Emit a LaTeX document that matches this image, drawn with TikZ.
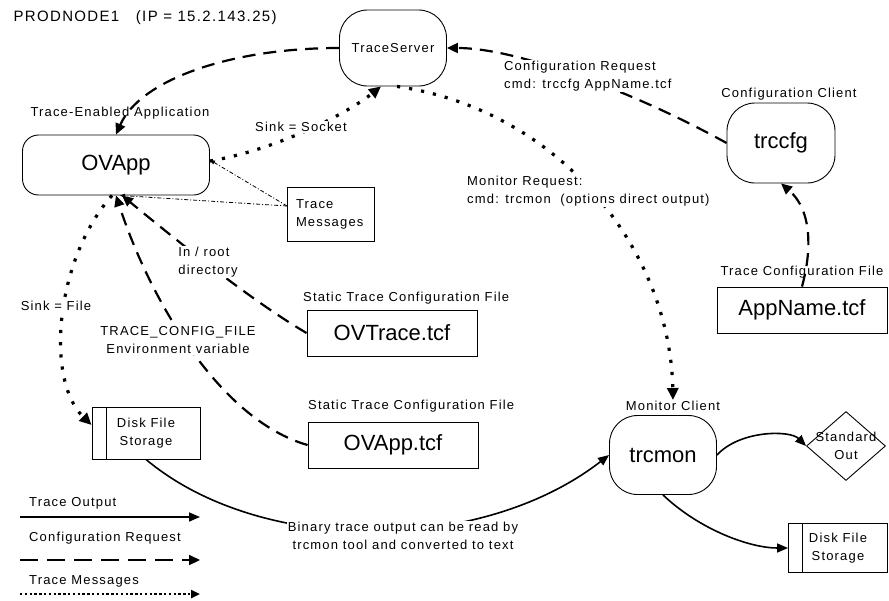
\documentclass[tikz,border=0pt]{standalone}
\usepackage{fontspec}
\setmainfont{Liberation Sans}
\newfontfamily\lblfont{Liberation Sans}[LetterSpace=9]
\usepackage{tikz}
\usetikzlibrary{shapes,arrows.meta}
\newcommand{\smalltxt}{\lblfont\fontsize{13}{18}\selectfont}
\newcommand{\bigtxt}{\fontsize{22}{26}\selectfont}
\newcommand{\titletxt}{\lblfont\fontsize{15}{18}\selectfont}
\tikzstyle{proc}=[rectangle, draw, line width=0.9pt, font=\bigtxt, inner sep=0pt]
\tikzstyle{filebox}=[rectangle, draw, line width=0.9pt, font=\bigtxt, minimum width=170, minimum height=46]
\tikzstyle{msgbox}=[rectangle, draw, line width=0.9pt, font=\smalltxt, align=left, text width=70pt, minimum width=87, minimum height=54]
\tikzstyle{diskbox}=[rectangle, draw, line width=0.9pt, font=\smalltxt, align=center, minimum width=108, minimum height=52, path picture={\draw[line width=0.9pt] ([xshift=14pt]path picture bounding box.north west) -- ([xshift=14pt]path picture bounding box.south west);}]
\tikzstyle{outdiamond}=[diamond, draw, line width=0.9pt, minimum width=79, minimum height=69, inner sep=0pt]
\tikzstyle{caption}=[font=\smalltxt, inner sep=1pt]
\tikzstyle{cfgline}=[line width=2.2pt, dash pattern=on 13pt off 8pt, -{Triangle[length=11pt,width=10pt]}]
\tikzstyle{msgline}=[line width=3.2pt, dash pattern=on 3.2pt off 9pt, -{Triangle[length=12pt,width=11pt]}]
\tikzstyle{dataline}=[line width=1.6pt, -{Triangle[length=11pt,width=9pt]}]
\tikzstyle{thinline}=[line width=0.8pt, dash pattern=on 4pt off 2pt on 1pt off 2pt, -{Triangle[length=5pt,width=4pt]}]
\begin{document}
\begin{tikzpicture}[x=1pt,y=-1pt]
\useasboundingbox (0,0) rectangle (889,600);
%Title
\node[font=\titletxt, anchor=west] (title) at (10,18) {PRODNODE1\ \ \ (IP = 15.2.143.25)};

%Processes
\node[proc, minimum width=187, minimum height=60, rounded corners=16pt] (ovapp) at (116,165) {OVApp};
\node[proc, font=\smalltxt, minimum width=107, minimum height=76, rounded corners=28pt] (srv) at (393,48) {TraceServer};
\node[proc, minimum width=108, minimum height=80, rounded corners=28pt] (cfg) at (781,143) {trccfg};
\node[proc, minimum width=107, minimum height=79, rounded corners=28pt] (mon) at (663,455) {trcmon};

%Files
\node[filebox] (ovtrace) at (392,333) {OVTrace.tcf};
\node[filebox] (ovappcfg) at (393,445) {OVApp.tcf};
\node[filebox] (appname) at (802,310) {AppName.tcf};
\node[msgbox] (msgs) at (331,214) {Trace\\Messages};
\node[diskbox] (disk) at (146,433) {Disk File\\Storage};
\node[diskbox, minimum width=99, minimum height=49] (disk2) at (838,548) {Disk File\\Storage};
\node[outdiamond, label={[font=\smalltxt, align=center]center:Standard\\Out}] (stdout) at (846,446) {};

%Captions
\node[caption] (appcap) at (120,113) {Trace-Enabled Application};
\node[caption] (cfgcap) at (789,94) {Configuration Client};
\node[caption] (tcfcap) at (802,272) {Trace Configuration File};
\node[caption, anchor=west] (statcap1) at (302,298) {Static Trace Configuration File};
\node[caption, anchor=west] (statcap2) at (307,406) {Static Trace Configuration File};
\node[caption] (moncap) at (673,406) {Monitor Client};

%Configuration requests
\draw[cfgline] (srv.west) .. controls (230,48) and (140,80) .. (ovapp.north);
\draw[cfgline] (cfg.west) .. controls (640,95) and (520,48) .. (srv.east);
\draw[cfgline] (appname.north) .. controls (812,250) and (812,210) .. (cfg.south);
\draw[cfgline] (ovtrace.west) .. controls (250,300) and (170,235) .. ([xshift=6pt]ovapp.south);
\draw[cfgline] (ovappcfg.west) .. controls (220,420) and (150,300) .. (ovapp.south);

%Trace messages
\draw[msgline] ([yshift=4pt]ovapp.east) .. controls (275,150) and (345,115) .. ([xshift=-12pt]srv.south);
\draw[msgline] ([xshift=4pt]srv.south) .. controls (560,110) and (670,250) .. (moncap.north);
\draw[msgline] ([xshift=-4pt]ovapp.south) .. controls (55,260) and (45,380) .. ([yshift=8pt]disk.west);
\draw[thinline] ([yshift=8pt]msgs.west) -- ([yshift=5pt]ovapp.east);
\draw[thinline] ([yshift=8pt]msgs.west) -- ([xshift=4pt]ovapp.south);

%Trace output
\draw[dataline] (disk.south) .. controls (260,555) and (480,555) .. (mon.west);
\draw[dataline] (mon.east) .. controls (740,430) and (790,430) .. (stdout.west);
\draw[dataline] (mon.south) .. controls (700,530) and (750,548) .. (disk2.west);

%Labels on the lines
\node[caption, fill=white] (sinksock) at (301,127) {Sink = Socket};
\node[caption, fill=white, anchor=west, align=left] (cfgreq) at (503,76) {Configuration Request\\cmd: trccfg AppName.tcf};
\node[caption, fill=white, anchor=west, align=left] (monreq) at (466,191) {Monitor Request:\\cmd: trcmon\ \ (options direct output)};
\node[caption, fill=white, align=left] (rootdir) at (208,262) {In / root\\directory};
\node[caption, fill=white, align=center] (envvar) at (178,340) {TRACE\_CONFIG\_FILE\\Environment variable};
\node[caption, fill=white] (sinkfile) at (56,306) {Sink = File};
\node[caption, fill=white, align=center] (binout) at (403,536) {Binary trace output can be read by\\trcmon tool and converted to text};

%Legend
\coordinate (lg1a) at (20,517); \coordinate (lg1b) at (200,517);
\coordinate (lg2a) at (20,560); \coordinate (lg2b) at (200,560);
\coordinate (lg3a) at (20,594); \coordinate (lg3b) at (200,594);
\node[caption, anchor=west] (lg1t) at (28,503) {Trace Output};
\node[caption, anchor=west] (lg2t) at (28,538) {Configuration Request};
\node[caption, anchor=west] (lg3t) at (28,581) {Trace Messages};
\draw[dataline] (lg1a) -- (lg1b);
\draw[cfgline, dash pattern=on 18pt off 9pt] (lg2a) -- (lg2b);
\draw[msgline, line width=2.4pt, dash pattern=on 2.4pt off 2.4pt, -{Triangle[length=9pt,width=8pt]}] (lg3a) -- (lg3b);
\end{tikzpicture}
\end{document}
